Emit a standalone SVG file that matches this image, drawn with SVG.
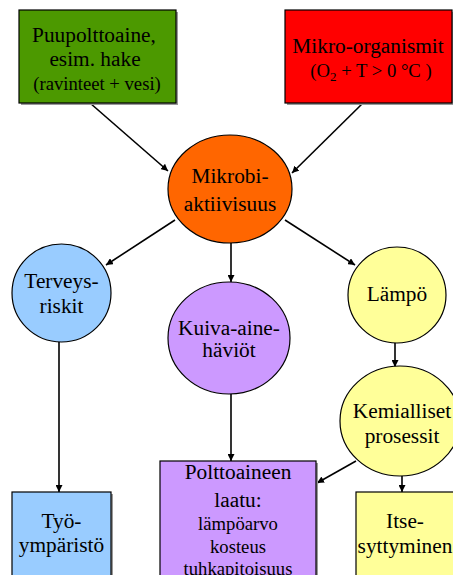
<svg xmlns="http://www.w3.org/2000/svg" width="453" height="575" viewBox="0 0 453 575">
<defs>
<style>
text{font-family:'Liberation Serif','Times New Roman',Tinos,'DejaVu Serif',serif;font-size:21.33px;fill:#000;text-anchor:middle}
.s{font-size:18.67px}
.n{stroke:#000;stroke-width:1.2}
.sh{fill:#999;}
.c line{stroke:#000;stroke-width:1.6;marker-end:url(#a)}
</style>
<marker id="a" viewBox="0 0 10 10" refX="10" refY="5" markerWidth="7" markerHeight="7" orient="auto" markerUnits="userSpaceOnUse">
<path d="M0,0L10,5L0,10z" fill="#000"/>
</marker>
</defs>
<rect width="453" height="575" fill="#fff"/>
<g class="c" id="connectors">
<line x1="90" y1="103" x2="168" y2="171"/>
<line x1="363" y1="103" x2="292" y2="173"/>
<line x1="175" y1="220" x2="106" y2="265"/>
<line x1="285" y1="220" x2="355" y2="265"/>
<line x1="231" y1="243" x2="231" y2="282"/>
<line x1="59" y1="342" x2="59" y2="492"/>
<line x1="231" y1="394" x2="231" y2="461"/>
<line x1="395" y1="343" x2="395" y2="367"/>
<line x1="356" y1="461" x2="317" y2="483"/>
<line x1="402" y1="476" x2="402" y2="492"/>
</g>
<g font-family="Liberation Serif, Times New Roman, serif">
<g id="puupolttoaine">
<rect class="sh" x="21" y="12" width="157" height="93"/>
<rect class="n" x="19" y="10" width="157" height="93" fill="#4c9900"/>
<text x="94" y="42" font-family="Liberation Serif">Puupolttoaine,</text>
<text x="95" y="66" font-family="Liberation Serif">esim. hake</text>
<text class="s" x="97" y="90" font-family="Liberation Serif">(ravinteet + vesi)</text>
</g>
<g id="mikroorganismit">
<rect class="sh" x="287" y="12" width="167" height="93"/>
<rect class="n" x="285" y="10" width="167" height="93" fill="#ff0000"/>
<text x="368" y="53" font-family="Liberation Serif">Mikro-organismit</text>
<text class="s" x="371" y="77" font-family="Liberation Serif">(O<tspan font-size="13" dy="4">2</tspan><tspan dy="-4"> + T &gt; 0 °C )</tspan></text>
</g>
<g id="mikrobiaktiivisuus">
<ellipse class="n" cx="230" cy="189" rx="62" ry="54" fill="#ff6600"/>
<text x="230" y="183" font-family="Liberation Serif">Mikrobi-</text>
<text x="230" y="211" font-family="Liberation Serif">aktiivisuus</text>
</g>
<g id="terveysriskit">
<ellipse class="n" cx="61.5" cy="293" rx="49.5" ry="49" fill="#99ccff"/>
<text x="61.5" y="288" font-family="Liberation Serif">Terveys-</text>
<text x="61.5" y="313" font-family="Liberation Serif">riskit</text>
</g>
<g id="kuivaainehaviot">
<ellipse class="n" cx="229" cy="338" rx="61" ry="56" fill="#cc99ff"/>
<text x="229" y="335" font-family="Liberation Serif">Kuiva-aine-</text>
<text x="229" y="357" font-family="Liberation Serif">häviöt</text>
</g>
<g id="lampo">
<ellipse class="n" cx="397" cy="295" rx="49" ry="48" fill="#ffff99"/>
<text x="397" y="301" font-family="Liberation Serif">Lämpö</text>
</g>
<g id="kemialliset">
<ellipse class="n" cx="400" cy="421" rx="60" ry="55" fill="#ffff99"/>
<text x="402" y="418" font-family="Liberation Serif">Kemialliset</text>
<text x="402" y="443" font-family="Liberation Serif">prosessit</text>
</g>
<g id="polttoaineen">
<rect class="sh" x="162" y="463" width="156" height="120"/>
<rect class="n" x="160" y="461" width="156" height="120" fill="#cc99ff"/>
<text x="238" y="479" font-family="Liberation Serif">Polttoaineen</text>
<text x="238" y="507" font-family="Liberation Serif">laatu:</text>
<text class="s" x="238" y="530" font-family="Liberation Serif">lämpöarvo</text>
<text class="s" x="238" y="553" font-family="Liberation Serif">kosteus</text>
<text class="s" x="238" y="575" font-family="Liberation Serif">tuhkapitoisuus</text>
</g>
<g id="tyoymparisto">
<rect class="sh" x="14" y="494" width="99" height="90"/>
<rect class="n" x="12" y="492" width="99" height="90" fill="#99ccff"/>
<text x="61.5" y="528" font-family="Liberation Serif">Työ-</text>
<text x="61.5" y="552" font-family="Liberation Serif">ympäristö</text>
</g>
<g id="itsesyttyminen">
<rect class="n" x="356" y="492" width="105" height="90" fill="#ffff99"/>
<text x="405" y="528" font-family="Liberation Serif">Itse-</text>
<text x="405" y="553" font-family="Liberation Serif">syttyminen</text>
</g>
</g>
</svg>
